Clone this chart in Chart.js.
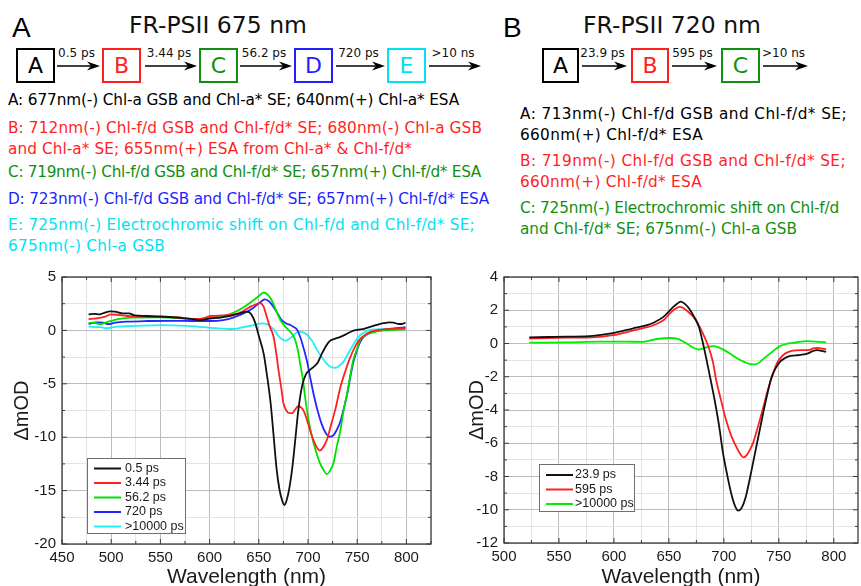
<!DOCTYPE html>
<html>
<head>
<meta charset="utf-8">
<script src="https://cdn.jsdelivr.net/npm/chart.js@4.4.0/dist/chart.umd.min.js"></script>
<style>
  body { margin:0; background:#fff; width:861px; height:586px; overflow:hidden; position:relative; font-family:"DejaVu Sans", Verdana, sans-serif; }
  .abs { position:absolute; white-space:nowrap; }
  .panel { font-family:"Liberation Sans", Arial, sans-serif; font-size:28px; line-height:28px; }
  .title { font-size:23.5px; line-height:28px; transform:translateX(-50%); }
  .box { position:absolute; box-sizing:border-box; height:35px; border:2px solid; text-align:center; font-size:22px; line-height:31px; }
  .note { font-size:15.3px; line-height:20px; }
  .lbl { font-size:12px; line-height:14px; transform:translateX(-50%); }
  canvas { position:absolute; }
</style>
</head>
<body>
<canvas id="chartA" width="440" height="330" style="left:0;top:262px"></canvas>
<canvas id="chartB" width="421" height="330" style="left:440px;top:262px"></canvas>
<script>
// ---------- panel A : FR-PSII 675 nm ----------
const wlA_05 = [477,483,488,493,499,504,511,518,524,535,550,567,583,590,600,611,621,631,638,642,646,650,655,658,662,665,668,671,674,676,678,681,684,687,690,694,698,702,706,710,714,718,722,727,733,738,744,750,757,764,771,777,783,787,791,795,799];
const dA_05 = [1.5,1.55,1.5,1.65,1.78,1.75,1.6,1.6,1.4,1.35,1.3,1.2,1.05,0.97,1.1,1.2,1.35,1.6,1.75,1.55,0.8,-0.5,-2.2,-4.0,-6.8,-9.8,-12.9,-14.9,-16.0,-16.35,-16.0,-14.8,-12.9,-10.3,-7.6,-5.2,-4.1,-3.7,-3.4,-3.0,-2.2,-1.5,-1.0,-0.8,-0.6,-0.4,-0.1,0.05,0.15,0.35,0.55,0.68,0.75,0.72,0.62,0.6,0.72];

const wlA_344 = [477,485,494,500,507,516,526,550,567,584,594,601,614,624,633,641,647,651,655,658,661,665,668,670,673,675,678,681,684,687,690,693,696,700,703,707,710,712,715,719,723,728,733,738,743,748,753,759,765,773,785,799];
const dA_344 = [1.05,1.12,1.3,1.5,1.45,1.35,1.3,1.27,1.23,1.07,1.13,1.35,1.4,1.5,1.75,2.2,2.45,2.55,2.2,1.3,0.4,-0.6,-2.3,-3.7,-5.5,-6.8,-7.5,-7.75,-7.75,-7.4,-7.1,-7.2,-7.6,-8.7,-9.6,-10.6,-11.1,-11.25,-11.0,-10.3,-9.0,-7.3,-5.3,-3.8,-2.5,-1.5,-0.8,-0.35,-0.1,0.05,0.15,0.2];

const wlA_562 = [477,482,488,495,502,512,522,550,573,587,600,614,624,635,645,651,655,659,663,667,672,676,680,684,687,690,692,695,697,700,704,708,712,716,719,722,726,729,733,736,740,743,746,750,753,758,763,770,777,788,799];
const dA_562 = [0.68,0.72,0.58,0.75,0.95,1.12,1.2,1.22,1.13,1.05,1.2,1.35,1.65,2.2,2.85,3.3,3.55,3.35,2.85,2.0,0.95,0.45,0.05,-0.35,-0.9,-2.0,-3.1,-4.7,-6.2,-8.1,-9.95,-11.3,-12.4,-13.1,-13.45,-13.2,-12.4,-11.0,-9.3,-7.6,-5.8,-4.2,-2.8,-1.7,-0.9,-0.5,-0.27,-0.1,0.0,0.05,0.1];

const wlA_720 = [477,485,492,497,504,516,536,560,584,601,614,624,635,645,651,656,660,665,669,673,678,682,685,689,692,695,699,702,706,710,714,718,722,726,729,733,736,740,743,746,750,753,757,762,767,780,790,799];
const dA_720 = [0.6,0.75,0.72,0.58,0.72,0.82,0.88,0.9,0.88,0.88,0.97,1.2,1.6,2.15,2.6,2.9,2.75,2.2,1.6,1.0,0.65,0.5,0.35,0.05,-0.6,-1.5,-2.9,-4.3,-6.1,-7.6,-8.8,-9.6,-9.95,-9.8,-9.35,-8.5,-7.45,-5.9,-4.35,-3.0,-1.8,-1.1,-0.55,-0.25,-0.12,0.1,0.2,0.3];

const wlA_long = [477,489,495,506,522,550,577,594,607,624,633,645,653,658,662,666,670,674,677,680,684,687,690,694,697,701,705,709,714,719,723,728,732,736,740,745,749,753,758,763,770,777,790,799];
const dA_long = [0.35,0.3,0.2,0.35,0.4,0.5,0.42,0.3,0.2,0.13,0.28,0.5,0.66,0.6,0.35,0.0,-0.55,-0.85,-0.95,-0.85,-0.58,-0.3,-0.12,-0.15,-0.27,-0.6,-1.1,-1.8,-2.5,-3.1,-3.4,-3.5,-3.3,-2.95,-2.3,-1.5,-0.9,-0.45,-0.15,0.04,0.1,0.15,0.18,0.2];

const labelsA = ['0.5 ps', '3.44 ps', '56.2 ps', '720 ps', '>10000 ps'];

// ---------- panel B : FR-PSII 720 nm ----------
const wlB_239 = [523,540,557,581,599,617,630,636,645,654,658,661,665,669,673,677,680,684,688,692,696,699,703,707,710,713,716,720,724,728,732,736,740,743,747,751,755,759,765,770,775,778,781,785,789,793];
const dB_239 = [0.37,0.39,0.41,0.46,0.62,0.9,1.1,1.25,1.6,2.2,2.42,2.52,2.35,2.05,1.6,1.05,0.3,-0.9,-2.2,-3.55,-5.1,-6.5,-7.9,-9.1,-9.75,-10.05,-9.9,-9.2,-8.0,-6.7,-5.4,-4.1,-2.9,-2.1,-1.5,-1.1,-0.9,-0.77,-0.72,-0.68,-0.62,-0.55,-0.45,-0.4,-0.45,-0.5];

const wlB_595 = [523,540,557,581,599,617,630,636,645,654,660,665,669,674,678,682,686,690,693,697,702,707,712,716,718,721,724,727,731,736,740,745,749,754,759,763,770,778,781,785,789,793];
const dB_595 = [0.3,0.33,0.35,0.37,0.5,0.77,0.98,1.1,1.4,2.0,2.2,2.05,1.82,1.45,1.0,0.45,-0.2,-1.1,-2.2,-3.3,-4.6,-5.6,-6.3,-6.75,-6.85,-6.7,-6.35,-5.9,-5.0,-3.8,-2.8,-1.75,-1.1,-0.69,-0.5,-0.43,-0.4,-0.38,-0.3,-0.27,-0.3,-0.34];

const wlB_long = [523,557,587,612,625,639,651,658,663,668,672,677,681,685,690,694,698,702,708,714,720,726,731,735,739,745,751,757,763,769,775,780,786,793];
const dB_long = [0.05,0.07,0.11,0.11,0.1,0.27,0.33,0.28,0.12,-0.08,-0.25,-0.36,-0.3,-0.22,-0.16,-0.2,-0.32,-0.46,-0.72,-0.96,-1.15,-1.26,-1.2,-0.98,-0.76,-0.45,-0.16,-0.02,0.04,0.1,0.14,0.13,0.1,0.07];

const labelsB = ['23.9 ps', '595 ps', '>10000 ps'];

// ---------- kinetic schemes and assignments ----------
const stepsA = ['A', 'B', 'C', 'D', 'E'];
const timesA = ['0.5 ps', '3.44 ps', '56.2 ps', '720 ps', '>10 ns'];
const notesA = [
  'A: 677nm(-) Chl-a GSB and Chl-a* SE; 640nm(+) Chl-a* ESA',
  'B: 712nm(-) Chl-f/d GSB and Chl-f/d* SE; 680nm(-) Chl-a GSB',
  'and Chl-a* SE; 655nm(+) ESA from Chl-a* & Chl-f/d*',
  'C: 719nm(-) Chl-f/d GSB and Chl-f/d* SE; 657nm(+) Chl-f/d* ESA',
  'D: 723nm(-) Chl-f/d GSB and Chl-f/d* SE; 657nm(+) Chl-f/d* ESA',
  'E: 725nm(-) Electrochromic shift on Chl-f/d and Chl-f/d* SE;',
  '675nm(-) Chl-a GSB'
];
const noteStepA = [0, 1, 1, 2, 3, 4, 4];

const stepsB = ['A', 'B', 'C'];
const timesB = ['23.9 ps', '595 ps', '>10 ns'];
const notesB = [
  'A: 713nm(-) Chl-f/d GSB and Chl-f/d* SE;',
  '660nm(+) Chl-f/d* ESA',
  'B: 719nm(-) Chl-f/d GSB and Chl-f/d* SE;',
  '660nm(+) Chl-f/d* ESA',
  'C: 725nm(-) Electrochromic shift on Chl-f/d',
  'and Chl-f/d* SE; 675nm(-) Chl-a GSB'
];
const noteStepB = [0, 0, 1, 1, 2, 2];

// colours
const textCol = ['#000000', '#ff1f1f', '#11900f', '#1f1fff', '#00e2f0'];
const lineColA = ['#111111', '#ff2020', '#00e000', '#2525ff', '#1ff0f4'];
const lineColB = ['#111111', '#ff2020', '#00ee00'];

// layout of the top part (noteEnd = right end of each text line in the original)
const layA = { boxX: [16, 102, 199, 294, 387], boxW: [39, 39, 39, 39, 39], arrows: [[57,100],[145,197],[240,292],[336,385],[429,481]],
               noteX: 8, noteY: [100,128,149,172,199,225,246], noteEnd: [460,483,413,482,490,476,166] };
const layB = { boxX: [542, 631, 721], boxW: [37, 38, 39], arrows: [[582,627],[672,717],[763,808]],
               noteX: 520, noteY: [114,135,161,182,208,229], noteEnd: [848,704,847,703,840,798] };

function el(cls, text, left, top, color) {
  const d = document.createElement('div');
  d.className = 'abs ' + cls;
  d.textContent = text;
  d.style.left = left + 'px';
  d.style.top = top + 'px';
  if (color) d.style.color = color;
  document.body.appendChild(d);
  return d;
}

function scheme(steps, times, notes, noteStep, lay) {
  steps.forEach((s, i) => {
    const b = el('box', s, lay.boxX[i], 48, textCol[i]);
    b.style.borderColor = textCol[i];
    b.style.width = lay.boxW[i] + 'px';
  });
  let svg = '<svg class="abs" style="left:0;top:0" width="861" height="100">';
  lay.arrows.forEach((a, i) => {
    const y = 66;
    svg += '<line x1="' + a[0] + '" y1="' + y + '" x2="' + (a[1] - 6) + '" y2="' + y + '" stroke="#000" stroke-width="1.3"/>';
    svg += '<polygon points="' + a[1] + ',' + y + ' ' + (a[1] - 13) + ',' + (y - 4.5) + ' ' + (a[1] - 9) + ',' + y + ' ' + (a[1] - 13) + ',' + (y + 4.5) + '" fill="#000"/>';
    el('lbl', times[i], (a[0] + a[1]) / 2 - 2, 46, '#111');
  });
  svg += '</svg>';
  document.body.insertAdjacentHTML('beforeend', svg);
  notes.forEach((t, i) => {
    const d = el('note', t, lay.noteX, lay.noteY[i] - 10, textCol[noteStep[i]]);
    // stretch the line a little so it spans like the original (Verdana-like) text
    const w = d.getBoundingClientRect().width;
    const want = lay.noteEnd[i] - lay.noteX - 1;
    d.style.letterSpacing = ((want - w) / t.length).toFixed(3) + 'px';
  });
}

el('panel', 'A', 12, 14, '#000');
el('title', 'FR-PSII 675 nm', 218, 11, '#111');
el('panel', 'B', 503, 14, '#000');
el('title', 'FR-PSII 720 nm', 672, 11, '#111');
scheme(stepsA, timesA, notesA, noteStepA, layA);
scheme(stepsB, timesB, notesB, noteStepB, layB);

// ---------- charts ----------
function pts(xs, ys) { return xs.map((x, i) => ({ x: x, y: ys[i] })); }

function isMajor(v, step) { return Math.abs(v / step - Math.round(v / step)) < 1e-6; }

const frame = {
  id: 'frame',
  afterDatasetsDraw(chart) {
    const ctx = chart.ctx, a = chart.chartArea;
    const sx = chart.scales.x, sy = chart.scales.y;
    const o = chart.options.plugins.frame;
    ctx.save();
    ctx.strokeStyle = '#3c3c3c';
    ctx.lineWidth = 1.3;
    ctx.strokeRect(a.left, a.top, a.right - a.left, a.bottom - a.top);
    ctx.lineWidth = 1;
    ctx.beginPath();
    sx.ticks.forEach(t => {
      const p = sx.getPixelForValue(t.value), len = isMajor(t.value, o.xMajor) ? 5 : 3;
      ctx.moveTo(p, a.bottom); ctx.lineTo(p, a.bottom - len);
      ctx.moveTo(p, a.top); ctx.lineTo(p, a.top + len);
    });
    sy.ticks.forEach(t => {
      const p = sy.getPixelForValue(t.value), len = isMajor(t.value, o.yMajor) ? 5 : 3;
      ctx.moveTo(a.left, p); ctx.lineTo(a.left + len, p);
      ctx.moveTo(a.right, p); ctx.lineTo(a.right - len, p);
    });
    ctx.stroke();
    ctx.restore();
  }
};

const boxLegend = {
  id: 'boxLegend',
  afterDraw(chart) {
    const o = chart.options.plugins.boxLegend;
    const ctx = chart.ctx, a = chart.chartArea;
    const x = a.left + o.left, y = a.bottom - o.bottom - o.height;
    ctx.save();
    ctx.fillStyle = '#fff';
    ctx.fillRect(x, y, o.width, o.height);
    ctx.strokeStyle = '#707070';
    ctx.lineWidth = 1;
    ctx.strokeRect(x + 0.5, y + 0.5, o.width, o.height);
    ctx.font = '12.5px "Liberation Sans", Arial, sans-serif';
    ctx.textBaseline = 'middle';
    chart.data.datasets.forEach((ds, i) => {
      const cy = y + o.first + i * o.rowH;
      ctx.strokeStyle = ds.borderColor;
      ctx.lineWidth = 2;
      ctx.beginPath(); ctx.moveTo(x + 7, cy); ctx.lineTo(x + 34, cy); ctx.stroke();
      ctx.fillStyle = '#1a1a1a';
      ctx.fillText(ds.label, x + o.textX, cy);
    });
    ctx.restore();
  }
};

const tickFont = { family: '"Liberation Sans", Arial, sans-serif', size: 15 };
const titleFont = { family: '"Liberation Sans", Arial, sans-serif', size: 21 };

function makeChart(id, series, labels, colors, ax) {
  return new Chart(document.getElementById(id), {
    type: 'line',
    data: {
      datasets: series.map((s, i) => ({
        label: labels[i],
        data: pts(s[0], s[1]),
        borderColor: colors[i],
        borderWidth: 1.8,
        pointRadius: 0,
        cubicInterpolationMode: 'monotone',
        fill: false
      }))
    },
    options: {
      responsive: false,
      animation: false,
      layout: { padding: { top: 15, right: ax.padRight, left: 0, bottom: 0 } },
      plugins: {
        legend: { display: false },
        tooltip: { enabled: false },
        frame: { xMajor: 50, yMajor: ax.yMajor },
        boxLegend: ax.legend
      },
      scales: {
        x: {
          type: 'linear', min: ax.xMin, max: ax.xMax,
          afterFit: s => { s.height = ax.xHeight; },
          ticks: { stepSize: 25, includeBounds: false, autoSkip: false, maxRotation: 0, padding: 5, color: '#1a1a1a', font: tickFont,
                   callback: v => isMajor(v, 50) ? String(v) : '' },
          grid: { drawTicks: false, color: c => isMajor(c.tick.value, 50) ? '#bcbcbc' : '#e4e4e4', lineWidth: 1 },
          border: { display: false },
          title: { display: true, text: 'Wavelength (nm)', color: '#1a1a1a', font: titleFont, padding: { top: 0, bottom: 2 } }
        },
        y: {
          min: ax.yMin, max: ax.yMax,
          afterFit: s => { s.width = ax.yWidth; },
          ticks: { stepSize: ax.yStep, includeBounds: false, autoSkip: false, padding: 6, color: '#1a1a1a', font: tickFont,
                   callback: v => isMajor(v, ax.yMajor) ? String(v) : '' },
          grid: { drawTicks: false, color: c => isMajor(c.tick.value, ax.yMajor) ? '#bcbcbc' : '#e4e4e4', lineWidth: 1 },
          border: { display: false },
          title: { display: true, text: '\u0394mOD', color: '#1a1a1a', font: { family: titleFont.family, size: 20 }, padding: { top: ax.yTitlePad, bottom: 0 } }
        }
      }
    },
    plugins: [frame, boxLegend]
  });
}

makeChart('chartA',
  [[wlA_05, dA_05], [wlA_344, dA_344], [wlA_562, dA_562], [wlA_720, dA_720], [wlA_long, dA_long]],
  labelsA, lineColA,
  { xMin: 450, xMax: 825, yMin: -20, yMax: 5, yStep: 2.5, yMajor: 5, padRight: 9, xHeight: 48, yWidth: 62, yTitlePad: 10,
    legend: { left: 25, bottom: 11, width: 98, height: 75, first: 10.5, rowH: 14.5, textX: 38 } });

makeChart('chartB',
  [[wlB_239, dB_239], [wlB_595, dB_595], [wlB_long, dB_long]],
  labelsB, lineColB,
  { xMin: 500, xMax: 822, yMin: -12, yMax: 4, yStep: 1, yMajor: 2, padRight: 3, xHeight: 49, yWidth: 64, yTitlePad: 25,
    legend: { left: 35, bottom: 32, width: 95, height: 47, first: 11, rowH: 14.5, textX: 36 } });
</script>
</body>
</html>
